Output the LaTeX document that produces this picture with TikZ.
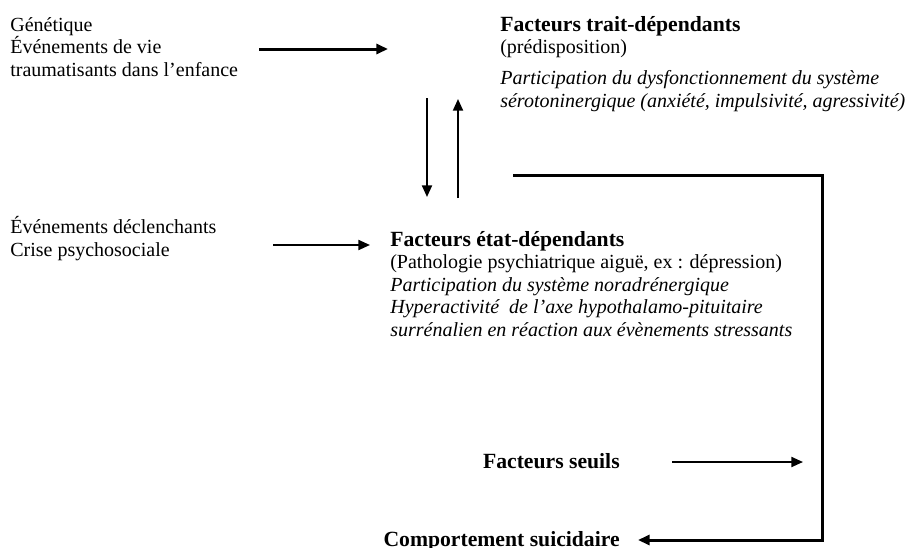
\documentclass[tikz,border=0pt]{standalone}
\usepackage{fontspec}
\setmainfont{Liberation Serif}
\usetikzlibrary{arrows.meta}
\newcommand{\titre}[1]{{\fontsize{13}{15}\selectfont\bfseries #1}}

\begin{document}
\begin{tikzpicture}[x=0.6pt, y=-0.6pt, font=\fontsize{12}{13.5}\selectfont,
  txt/.style = {align=left, inner sep=0pt, anchor=north west},
  lbl/.style = {inner sep=0pt, anchor=base east, font=\fontsize{13}{15}\selectfont\bfseries},
  fl/.style = {-{Triangle[length=7pt, width=6pt]}, line width=1.2pt},
  flg/.style = {fl, line width=1.8pt}]
\useasboundingbox (0,0) rectangle (913,547);
% blocs de texte
\node[txt] (gen) at (10,17) {Génétique\\Événements de vie\\traumatisants dans l’enfance};
\node[txt] (trait) at (500,16) {\titre{Facteurs trait-dépendants}\\(prédisposition)\\[5pt]
  \textit{Participation du dysfonctionnement du système}\\
  \textit{sérotoninergique (anxiété, impulsivité, agressivité)}};
\node[txt] (decl) at (10,216) {Événements déclenchants\\Crise psychosociale};
\node[txt] (etat) at (390,231) {\titre{Facteurs état-dépendants}\\(Pathologie psychiatrique aiguë, ex~: dépression)\\
  \textit{Participation du système noradrénergique}\\
  \textit{Hyperactivité\ \ de l’axe hypothalamo-pituitaire}\\
  \textit{surrénalien en réaction aux évènements stressants}};
\node[lbl] (seuils) at (620,468) {Facteurs seuils};
\node[lbl] (comp) at (620,546) {Comportement suicidaire};
% extremites des fleches
\coordinate (g1) at (259,49);
\coordinate (g2) at (388,49);
\coordinate (d1) at (273,245);
\coordinate (d2) at (370,245);
\coordinate (v1) at (427,98);
\coordinate (v2) at (427,197);
\coordinate (u1) at (458,198);
\coordinate (u2) at (458,99);
\coordinate (s1) at (672,462);
\coordinate (s2) at (803,462);
\coordinate (b0) at (513,175);
\coordinate (b1) at (822,540);
\coordinate (b2) at (638,540);
% fleches
\draw[flg] (g1) -- (g2);
\draw[fl] (d1) -- (d2);
\draw[fl] (v1) -- (v2);
\draw[fl] (u1) -- (u2);
\draw[fl] (s1) -- (s2);
\draw[flg] (b0) -| (b1) -- (b2);
\end{tikzpicture}
\end{document}
